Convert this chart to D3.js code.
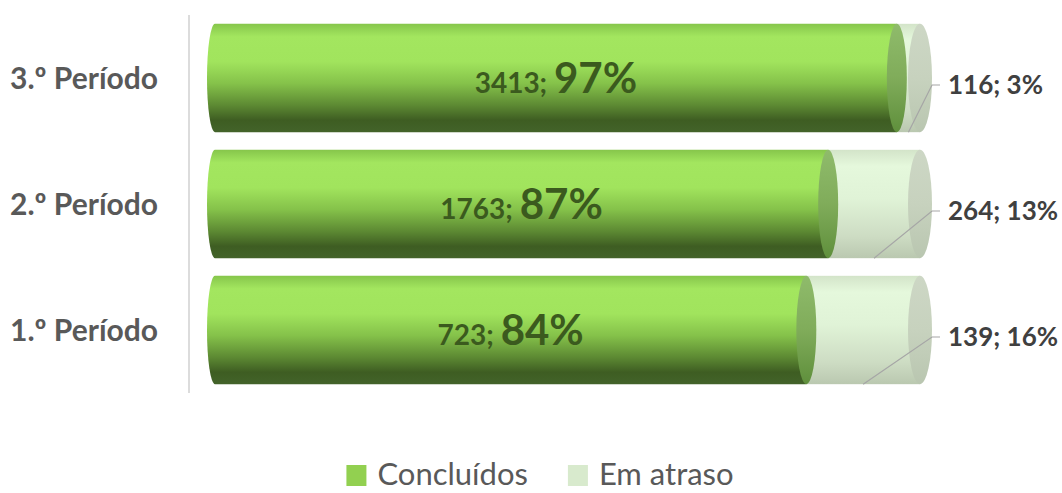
<!DOCTYPE html>
<html>
<head>
<meta charset="utf-8">
<script src="https://cdn.jsdelivr.net/npm/d3@7"></script>
<style>
  body { margin: 0; background: #fff; }
  svg { display: block; font-family: Lato, "Open Sans", sans-serif; }
</style>
</head>
<body>
<svg id="chart" width="1062" height="493"></svg>
<script>
// data
var categories = ["1.º Período", "2.º Período", "3.º Período"];
var concluidos = [723, 1763, 3413];
var emAtraso = [139, 264, 116];
var seriesNames = ["Concluídos", "Em atraso"];

var svg = d3.select("#chart");
var W = 1062;

var rows = categories.map(function (c, i) {
    var total = concluidos[i] + emAtraso[i];
    return {
        name: c,
        done: concluidos[i],
        late: emAtraso[i],
        fDone: concluidos[i] / total,
        pDone: Math.round(concluidos[i] / total * 100),
        pLate: Math.round(emAtraso[i] / total * 100)
    };
});

var x = d3.scaleLinear().domain([0, 1]).range([215, 920]);
var y = d3.scaleBand()
    .domain(categories.slice().reverse())
    .range([15, 393])
    .paddingInner(0.14)
    .paddingOuter(0.07);
var bh = y.bandwidth(), ry = bh / 2;
var rxLeft = 8, rxMid = 10, rxEnd = 12;

// gradients
var defs = svg.append("defs");
function grad(id, stops) {
    var g = defs.append("linearGradient").attr("id", id)
        .attr("x1", 0).attr("y1", 0).attr("x2", 0).attr("y2", 1);
    stops.forEach(function (s) {
        g.append("stop").attr("offset", s[0]).attr("stop-color", s[1]);
    });
}
grad("gGreen", [[0, "#86c64b"], [0.12, "#a3e65f"], [0.35, "#a1e45d"], [0.55, "#85c24a"],
    [0.75, "#5d8a33"], [0.89, "#3e5d22"], [1, "#43632a"]]);
grad("gLight", [[0, "#d3e4c9"], [0.15, "#e5f8dc"], [0.45, "#e0f3d7"], [0.8, "#cddcc3"], [1, "#bac8b0"]]);
grad("gGreenCap", [[0, "#8fbb6b"], [0.5, "#80ac5a"], [1, "#5f8f3c"]]);
grad("gLightCap", [[0, "#cdd7c5"], [0.5, "#c7d2be"], [1, "#b9c6b0"]]);

// axis line
svg.append("line")
    .attr("x1", 189).attr("x2", 189)
    .attr("y1", 15).attr("y2", 393)
    .attr("stroke", "#dcdcdc").attr("stroke-width", 2);

// category labels
svg.append("g").selectAll("text").data(rows).enter()
    .append("text")
    .attr("x", 10)
    .attr("y", function (d) { return y(d.name) + ry + 11; })
    .attr("font-size", 30)
    .attr("font-weight", "bold")
    .attr("fill", "#595959")
    .text(function (d) { return d.name; });

var bars = svg.append("g").selectAll("g").data(rows).enter().append("g");

// em atraso body
bars.append("rect")
    .attr("x", function (d) { return x(d.fDone); })
    .attr("y", function (d) { return y(d.name); })
    .attr("width", function (d) { return x(1) - x(d.fDone); })
    .attr("height", bh)
    .attr("fill", "url(#gLight)");

// concluidos body with rounded back end
bars.append("path")
    .attr("fill", "url(#gGreen)")
    .attr("d", function (d) {
        var x0 = x(0), x1 = x(d.fDone), t = y(d.name), b = t + bh;
        return "M" + x0 + "," + t + "L" + x1 + "," + t + "L" + x1 + "," + b +
            "L" + x0 + "," + b + "A" + rxLeft + "," + ry + " 0 0 1 " + x0 + "," + t + "Z";
    });

// end caps
bars.append("ellipse")
    .attr("cx", function (d) { return x(d.fDone); })
    .attr("cy", function (d) { return y(d.name) + ry; })
    .attr("rx", rxMid).attr("ry", ry)
    .attr("fill", "url(#gGreenCap)");

bars.append("ellipse")
    .attr("cx", x(1))
    .attr("cy", function (d) { return y(d.name) + ry; })
    .attr("rx", rxEnd).attr("ry", ry)
    .attr("fill", "url(#gLightCap)");

// concluidos labels
var lab = bars.append("text")
    .attr("x", function (d) { return (x(0) + x(d.fDone)) / 2; })
    .attr("y", function (d) { return y(d.name) + ry + 15; })
    .attr("text-anchor", "middle")
    .attr("font-weight", "bold")
    .attr("fill", "#3b5a1e");
lab.append("tspan").attr("font-size", 28).text(function (d) { return d.done + "; "; });
lab.append("tspan").attr("font-size", 42).text(function (d) { return d.pDone + "%"; });

// em atraso leader lines + labels
bars.append("polyline")
    .attr("fill", "none")
    .attr("stroke", "#a6a6a6")
    .attr("stroke-width", 1.2)
    .attr("points", function (d) {
        var mx = (x(d.fDone) + x(1)) / 2, b = y(d.name) + bh, ly = y(d.name) + ry + 7;
        return [[mx, b], [x(1) + 12, ly], [x(1) + 20, ly]].join(" ");
    });

bars.append("text")
    .attr("x", x(1) + 28)
    .attr("y", function (d) { return y(d.name) + ry + 16; })
    .attr("font-size", 26)
    .attr("font-weight", "bold")
    .attr("fill", "#404040")
    .text(function (d) { return d.late + "; " + d.pLate + "%"; });

// legend
var legColors = ["#92d050", "#d8eacd"];
var leg = svg.append("g");
var items = leg.selectAll("g").data(seriesNames).enter().append("g");
items.append("rect").attr("width", 20).attr("height", 21).attr("y", 465)
    .attr("fill", function (d, i) { return legColors[i]; });
items.append("text").attr("x", 31).attr("y", 485)
    .attr("font-size", 31).attr("fill", "#595959")
    .text(function (d) { return d; });
var offs = [], cur = 0;
items.each(function () {
    var w = this.getBBox().width;
    offs.push(cur);
    cur += w + 40;
});
var total = cur - 40, start = W / 2 + 9 - total / 2;
items.attr("transform", function (d, i) { return "translate(" + (start + offs[i]) + ",0)"; });
</script>
</body>
</html>
